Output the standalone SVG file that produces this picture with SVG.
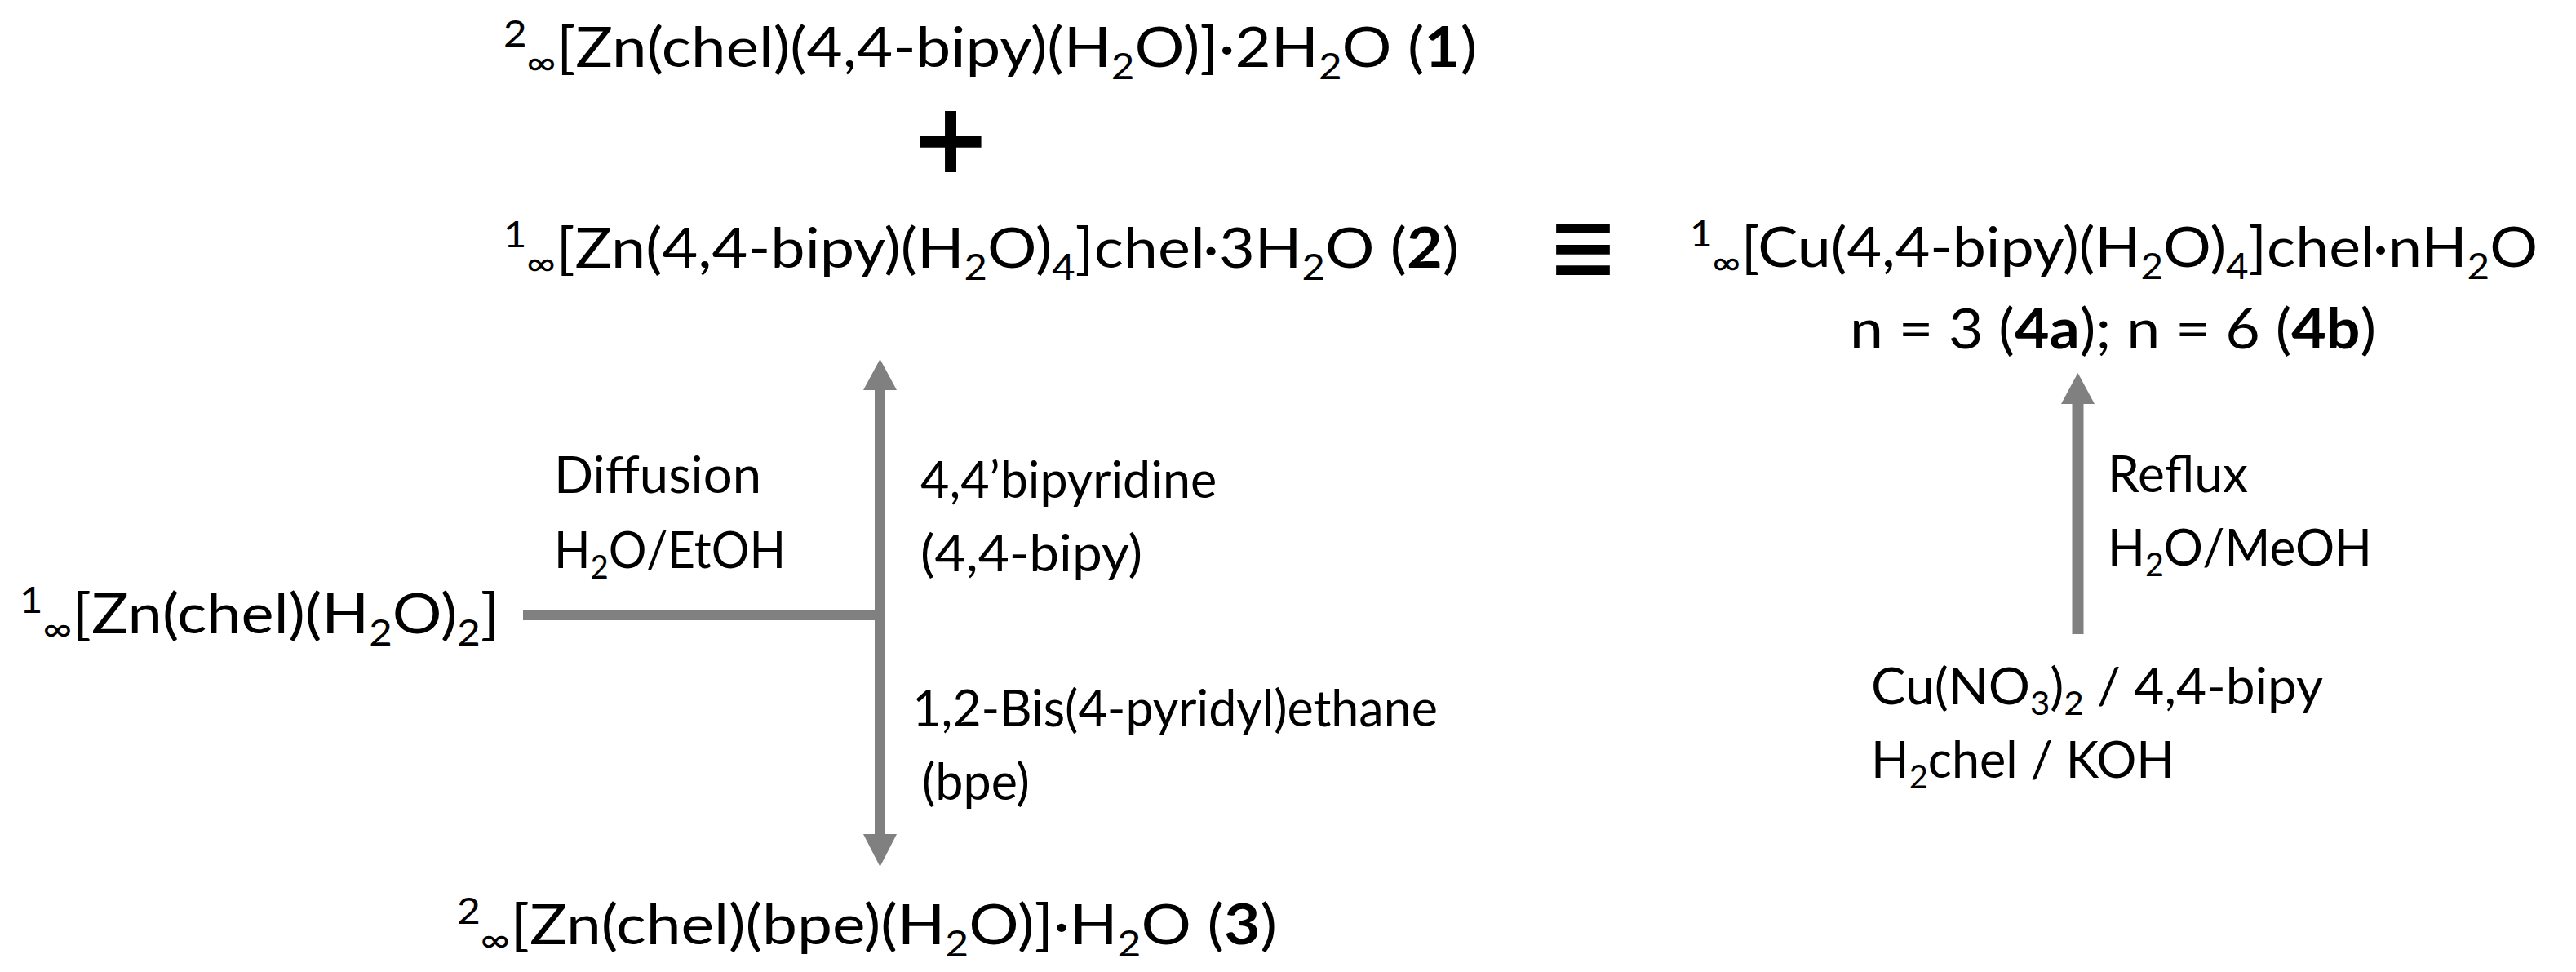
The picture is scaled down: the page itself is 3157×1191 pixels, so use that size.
<svg xmlns="http://www.w3.org/2000/svg" width="3157" height="1191" viewBox="0 0 3157 1191">
<style>
text{font-family:Lato,"Liberation Sans",sans-serif;fill:#000}
.m{font-size:68px}
.l{font-size:61px}
.s{font-size:44px}
.ls{font-size:40px}
.b{font-weight:bold}
.sym{font-family:"DejaVu Sans",sans-serif}
.ln{stroke:#808080;stroke-width:13;fill:none}
.ah{fill:#808080}
</style>
<rect width="3157" height="1191" fill="#fff"/>

<g id="compound1">
<text class="m" x="617" y="82" textLength="1193" lengthAdjust="spacingAndGlyphs"><tspan class="s" dy="-25">2</tspan><tspan class="s" dy="35">∞</tspan><tspan dy="-10">[Zn(chel)(4,4-bipy)(H</tspan><tspan class="s" dy="15">2</tspan><tspan dy="-15">O)]·2H</tspan><tspan class="s" dy="15">2</tspan><tspan dy="-15">O (</tspan><tspan class="b">1</tspan>)</text>
</g>

<g id="plus">
<text class="sym b" x="1165" y="211" font-size="120" text-anchor="middle">+</text>
</g>

<g id="compound2">
<text class="m" x="617" y="328" textLength="1171" lengthAdjust="spacingAndGlyphs"><tspan class="s" dy="-25">1</tspan><tspan class="s" dy="35">∞</tspan><tspan dy="-10">[Zn(4,4-bipy)(H</tspan><tspan class="s" dy="15">2</tspan><tspan dy="-15">O)</tspan><tspan class="s" dy="15">4</tspan><tspan dy="-15">]chel·3H</tspan><tspan class="s" dy="15">2</tspan><tspan dy="-15">O (</tspan><tspan class="b">2</tspan>)</text>
</g>

<g id="equiv">
<text class="sym" transform="translate(1940,306.5) scale(1,1.35)" x="0" y="32" font-size="105" text-anchor="middle">≡</text>
</g>

<g id="compound4">
<text class="m" x="2071" y="327" textLength="1039" lengthAdjust="spacingAndGlyphs"><tspan class="s" dy="-25">1</tspan><tspan class="s" dy="35">∞</tspan><tspan dy="-10">[Cu(4,4-bipy)(H</tspan><tspan class="s" dy="15">2</tspan><tspan dy="-15">O)</tspan><tspan class="s" dy="15">4</tspan><tspan dy="-15">]chel·nH</tspan><tspan class="s" dy="15">2</tspan><tspan dy="-15">O</tspan></text>
<text class="m" x="2267" y="427" textLength="645" lengthAdjust="spacingAndGlyphs">n = 3 (<tspan class="b">4a</tspan>); n = 6 (<tspan class="b">4b</tspan>)</text>
</g>

<g id="precursor">
<text class="m" x="24" y="776" textLength="588" lengthAdjust="spacingAndGlyphs"><tspan class="s" dy="-25">1</tspan><tspan class="s" dy="35">∞</tspan><tspan dy="-10">[Zn(chel)(H</tspan><tspan class="s" dy="15">2</tspan><tspan dy="-15">O)</tspan><tspan class="s" dy="15">2</tspan><tspan dy="-15">]</tspan></text>
</g>

<g id="compound3">
<text class="m" x="560" y="1157" textLength="1005" lengthAdjust="spacingAndGlyphs"><tspan class="s" dy="-25">2</tspan><tspan class="s" dy="35">∞</tspan><tspan dy="-10">[Zn(chel)(bpe)(H</tspan><tspan class="s" dy="15">2</tspan><tspan dy="-15">O)]·H</tspan><tspan class="s" dy="15">2</tspan><tspan dy="-15">O (</tspan><tspan class="b">3</tspan>)</text>
</g>

<g id="reagents-cu">
<text class="l" x="2293" y="863" textLength="554" lengthAdjust="spacingAndGlyphs">Cu(NO<tspan class="ls" dy="13">3</tspan><tspan dy="-13">)</tspan><tspan class="ls" dy="13">2</tspan><tspan dy="-13"> / 4,4-bipy</tspan></text>
<text class="l" x="2293" y="953" textLength="372" lengthAdjust="spacingAndGlyphs">H<tspan class="ls" dy="13">2</tspan><tspan dy="-13">chel / KOH</tspan></text>
</g>

<g id="connectors">
<line class="ln" x1="641" y1="753.5" x2="1085" y2="753.5"/>
<line class="ln" x1="1078.5" y1="476" x2="1078.5" y2="1024"/>
<polygon class="ah" points="1078.5,440 1099,478 1058,478"/>
<polygon class="ah" points="1078.5,1062 1099,1022 1058,1022"/>
<line class="ln" x1="2546.5" y1="493" x2="2546.5" y2="777" style="stroke-width:14"/>
<polygon class="ah" points="2546.5,457 2567,495 2526,495"/>
</g>

<g id="labels">
<text class="l" x="679" y="604" textLength="254" lengthAdjust="spacingAndGlyphs">Diffusion</text>
<text class="l" x="679" y="696" textLength="284" lengthAdjust="spacingAndGlyphs">H<tspan class="ls" dy="13">2</tspan><tspan dy="-13">O/EtOH</tspan></text>
<text class="l" x="1128" y="610">4,4’bipyridine</text>
<text class="l" x="1128" y="700" textLength="272" lengthAdjust="spacingAndGlyphs">(4,4-bipy)</text>
<text class="l" x="1118" y="890">1,2-Bis(4-pyridyl)ethane</text>
<text class="l" x="1130" y="980">(bpe)</text>
<text class="l" x="2583" y="603" textLength="172" lengthAdjust="spacingAndGlyphs">Reflux</text>
<text class="l" x="2583" y="693" textLength="324" lengthAdjust="spacingAndGlyphs">H<tspan class="ls" dy="13">2</tspan><tspan dy="-13">O/MeOH</tspan></text>
</g>
</svg>
